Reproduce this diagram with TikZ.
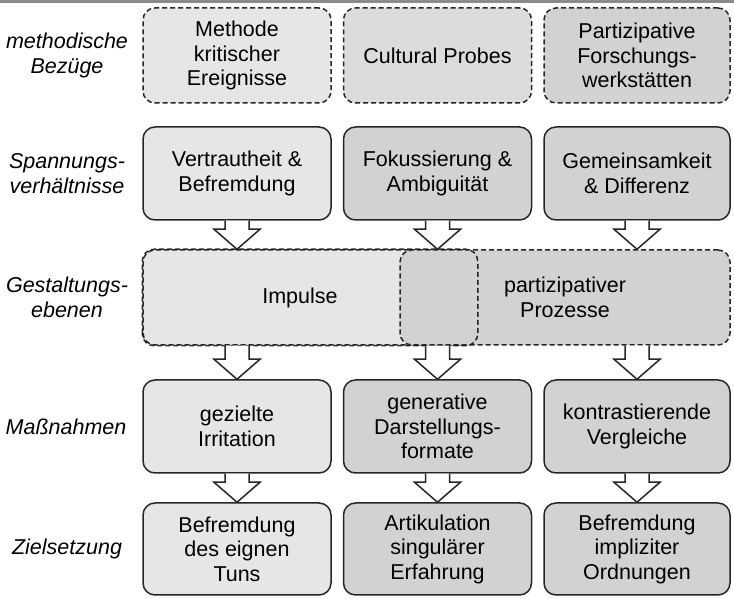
\documentclass[tikz,border=0pt]{standalone}
\usepackage{fontspec}
\setmainfont{Liberation Sans}
\definecolor{hell}{HTML}{E6E6E6}
\definecolor{mittel}{HTML}{DCDCDC}
\definecolor{dunkel}{HTML}{D2D2D2}
\definecolor{rand}{HTML}{262626}
\definecolor{balken}{HTML}{8A8A8A}
\begin{document}
\begin{tikzpicture}[x=1pt, y=1pt,
    kasten/.style={draw=rand, line width=1.5pt, rounded corners=12pt, minimum width=188pt,
        align=center, inner sep=2pt, font=\fontsize{21.5}{24.5}\selectfont},
    strich/.style={dash pattern=on 5pt off 3pt},
    zeile/.style={align=center, font=\fontsize{21.5}{24.5}\selectfont\itshape},
    pfeil/.style={draw=rand, line width=1.5pt, fill=white, sharp corners,
        to path={([xshift=-12pt]\tikztostart) -- ([xshift=-12pt,yshift=20pt]\tikztotarget)
            -- ([xshift=-23pt,yshift=20pt]\tikztotarget) -- (\tikztotarget)
            -- ([xshift=23pt,yshift=20pt]\tikztotarget) -- ([xshift=12pt,yshift=20pt]\tikztotarget)
            -- ([xshift=12pt]\tikztostart)}}]
    \useasboundingbox (0,0) rectangle (734,599);
    \fill[balken] (0,596) rectangle (734,599); % Balken oben
    % linke Spalte
    \node[zeile] (l1) at (67,543.5) {methodische\\Bezüge};
    \node[zeile] (l2) at (67,425.5) {Spannungs-\\verhältnisse};
    \node[zeile] (l3) at (67,301.5) {Gestaltungs-\\ebenen};
    \node[zeile] (l4) at (66,172.5) {Maßnahmen};
    \node[zeile] (l5) at (67,50) {Zielsetzung};
    % methodische Bezuege
    \node[kasten, strich, fill=hell, minimum height=95pt] (r1a) at (237,543.5) {Methode\\kritischer\\Ereignisse};
    \node[kasten, strich, fill=mittel, minimum height=95pt] (r1b) at (437.5,543.5) {Cultural Probes};
    \node[kasten, strich, fill=dunkel, minimum height=95pt, minimum width=186pt] (r1c) at (637,543.5) {Partizipative\\Forschungs-\\werkstätten};
    % Spannungsverhaeltnisse
    \node[kasten, fill=hell, minimum height=93pt] (r2a) at (237,425.5) {Vertrautheit \&\\Befremdung};
    \node[kasten, fill=dunkel, minimum height=93pt] (r2b) at (437.5,425.5) {Fokussierung \&\\Ambiguität};
    \node[kasten, fill=dunkel, minimum height=93pt, minimum width=186pt] (r2c) at (637,425.5) {Gemeinsamkeit\\\& Differenz};
    % Gestaltungsebenen
    \node[kasten, strich, fill=hell, minimum height=95pt, minimum width=334pt, text width=314pt] (imp) at (310,301.5) {\hspace*{-20pt}Impulse};
    \node[kasten, strich, fill=dunkel, minimum height=95pt, minimum width=330pt] (part) at (565,301.5) {partizipativer\\Prozesse};
    \draw[draw=rand, line width=1.5pt, strich, rounded corners=12pt] (imp.south west) rectangle (imp.north east);
    % Massnahmen
    \node[kasten, fill=hell, minimum height=93pt] (r4a) at (237,172.5) {gezielte\\Irritation};
    \node[kasten, fill=dunkel, minimum height=93pt] (r4b) at (437.5,172.5) {generative\\Darstellungs-\\formate};
    \node[kasten, fill=dunkel, minimum height=93pt, minimum width=186pt] (r4c) at (637,172.5) {kontrastierende\\Vergleiche};
    % Zielsetzung
    \node[kasten, fill=hell, minimum height=92pt] (r5a) at (237,50) {Befremdung\\des eignen\\Tuns};
    \node[kasten, fill=dunkel, minimum height=92pt] (r5b) at (437.5,50) {Artikulation\\singulärer\\Erfahrung};
    \node[kasten, fill=dunkel, minimum height=92pt, minimum width=186pt] (r5c) at (637,50) {Befremdung\\impliziter\\Ordnungen};
    % Pfeile
    \draw[pfeil] (r2a.south) to (r2a.south |- imp.north);
    \draw[pfeil] (r2b.south) to (r2b.south |- imp.north);
    \draw[pfeil] (r2c.south) to (r2c.south |- part.north);
    \draw[pfeil] (r4a.north |- imp.south) to (r4a.north);
    \draw[pfeil] (r4b.north |- imp.south) to (r4b.north);
    \draw[pfeil] (r4c.north |- part.south) to (r4c.north);
    \foreach \von/\nach in {r4a/r5a, r4b/r5b, r4c/r5c}{\draw[pfeil] (\von.south) to (\nach.north);}
\end{tikzpicture}
\end{document}
